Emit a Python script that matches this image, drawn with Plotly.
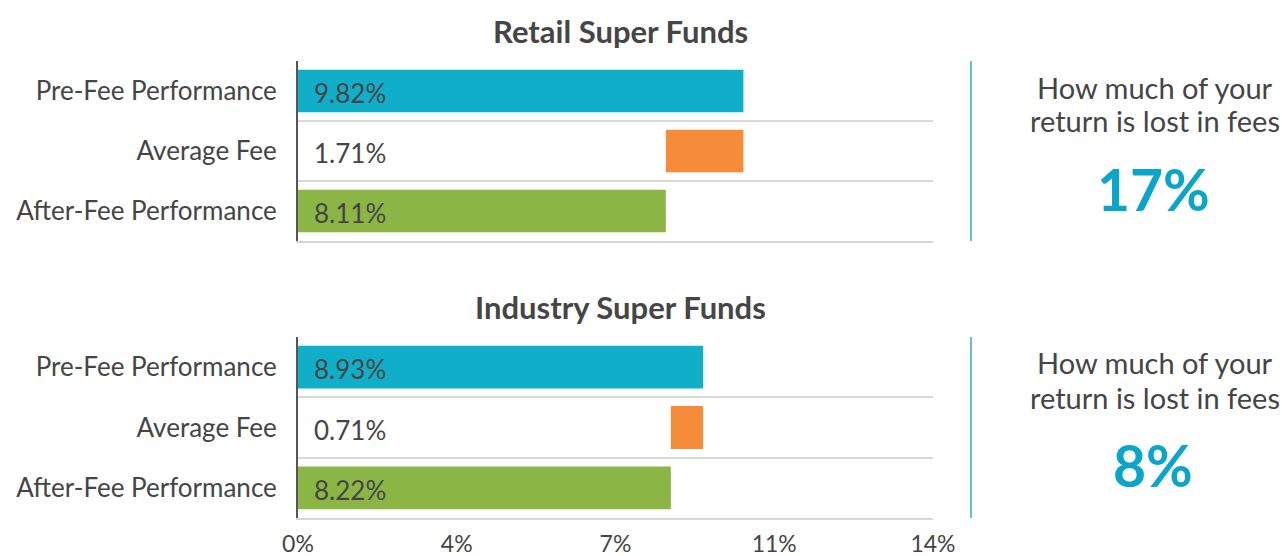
import plotly.graph_objects as go

categories = ["Pre-Fee Performance", "Average Fee", "After-Fee Performance"]
panel_titles = ["Retail Super Funds", "Industry Super Funds"]
pre_fee = [9.82, 8.93]
avg_fee = [1.71, 0.71]
after_fee = [8.11, 8.22]
loss_text = ["17%", "8%"]
side_lines = ["How much of your", "return is lost in fees"]
tick_vals = [0, 3.5, 7, 10.5, 14]
tick_text = ["0%", "4%", "7%", "11%", "14%"]

W, H = 1282, 556
TEAL = "#10aec9"
ORANGE = "#f68b3a"
GREEN = "#8bb645"
TXT = "#454545"
FONT = "Lato"

fig = go.Figure()

x0, x1 = 298 / W, 933 / W
ydoms = [(1 - 241 / H, 1 - 61 / H), (1 - 518 / H, 1 - 337 / H)]

for i in range(2):
    xa = "x" if i == 0 else "x2"
    ya = "y" if i == 0 else "y2"
    fig.add_trace(go.Bar(
        y=[categories[0], categories[2]], x=[pre_fee[i], after_fee[i]],
        orientation="h", marker=dict(color=[TEAL, GREEN], line_width=0),
        width=0.71, xaxis=xa, yaxis=ya, hoverinfo="skip", showlegend=False))
    fig.add_trace(go.Bar(
        y=[categories[1]], x=[avg_fee[i]], base=[after_fee[i]],
        orientation="h", marker=dict(color=ORANGE, line_width=0),
        width=0.71, xaxis=xa, yaxis=ya, hoverinfo="skip", showlegend=False))
    vals = [pre_fee[i], avg_fee[i], after_fee[i]]
    for c, v in zip(categories, vals):
        fig.add_annotation(x=0, y=c, xref=xa, yref=ya, text=f"{v:.2f}%",
                           showarrow=False, xanchor="left", xshift=14, yshift=-2,
                           font=dict(family=FONT, size=26, color=TXT))
    ytop = ydoms[i][1]
    fig.add_annotation(x=620 / W, y=ytop + 30 / H, xref="paper", yref="paper",
                       text=f"<b>{panel_titles[i]}</b>", showarrow=False,
                       xanchor="center", yanchor="middle",
                       font=dict(family=FONT, size=31, color=TXT))
    fig.add_shape(type="line", xref="paper", yref="paper", x0=971 / W, x1=971 / W,
                  y0=ydoms[i][0], y1=ydoms[i][1], line=dict(color="#3aa9c9", width=1.5))
    for k, line in enumerate(side_lines):
        fig.add_annotation(x=1155 / W, y=ytop - (26 + 34 * k) / H, xref="paper", yref="paper",
                           text=line, showarrow=False, xanchor="center", yanchor="middle",
                           font=dict(family=FONT, size=29, color=TXT))
    fig.add_annotation(x=1153 / W, y=ytop - 128 / H, xref="paper", yref="paper",
                       text=f"<b>{loss_text[i]}</b>", showarrow=False,
                       xanchor="center", yanchor="middle",
                       font=dict(family=FONT, size=57, color="#0aa5c8"))

common_x = dict(range=[0, 14], tickvals=tick_vals, ticktext=tick_text, showgrid=False,
                zeroline=False, showline=True, linecolor="#d6d6d6", linewidth=2,
                tickfont=dict(family=FONT, size=23, color=TXT), fixedrange=True,
                ticklabelstandoff=4, domain=[x0, x1], automargin=False)
common_y = dict(type="category", categoryorder="array", categoryarray=categories,
                autorange="reversed", tickson="boundaries", showgrid=True,
                gridcolor="#d9d9d9", gridwidth=2, showline=True, linecolor="#555555",
                linewidth=2, ticks="", ticklabelstandoff=14,
                tickfont=dict(family=FONT, size=26, color=TXT), automargin=False)

fig.update_layout(
    width=W, height=H, margin=dict(l=0, r=0, t=0, b=0),
    paper_bgcolor="white", plot_bgcolor="white", barmode="overlay",
    xaxis=dict(**common_x, anchor="y", showticklabels=False),
    yaxis=dict(**common_y, domain=list(ydoms[0]), anchor="x"),
    xaxis2=dict(**common_x, anchor="y2"),
    yaxis2=dict(**common_y, domain=list(ydoms[1]), anchor="x2"),
)

fig.write_html("out.html", config={"displayModeBar": False},
               post_script="document.body.style.margin='0';")
